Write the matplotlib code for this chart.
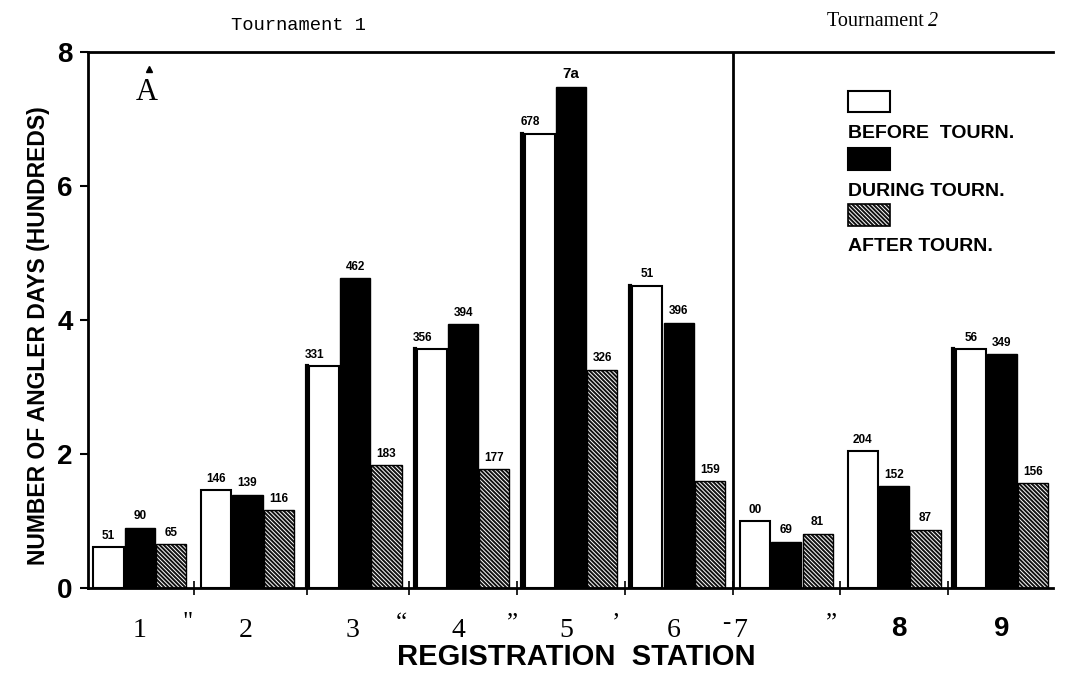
import numpy as np
import matplotlib.pyplot as plt

# angler days (hundreds) per registration station
stations = [1, 2, 3, 4, 5, 6, 7, 8, 9]
before = [0.61, 1.46, 3.31, 3.56, 6.78, 4.51, 1.00, 2.04, 3.56]
during = [0.90, 1.39, 4.62, 3.94, 7.48, 3.96, 0.69, 1.52, 3.49]
after = [0.65, 1.16, 1.83, 1.77, 3.26, 1.59, 0.81, 0.87, 1.56]

# value labels as printed on the chart
before_lbl = ['51', '146', '331', '356', '678', '51', '00', '204', '56']
during_lbl = ['90', '139', '462', '394', '7a', '396', '69', '152', '349']
after_lbl = ['65', '116', '183', '177', '326', '159', '81', '87', '156']

plt.rcParams['hatch.linewidth'] = 0.7
plt.rcParams['hatch.color'] = 'white'
HATCH = '\\' * 8

fig = plt.figure(figsize=(10.67, 6.75), dpi=100)
ax = fig.add_axes([0.0825, 0.129, 0.904, 0.794])

x = np.array(stations, dtype=float)
w = 0.28
off = 0.29

ax.bar(x - off, before, w, color='white', edgecolor='black', linewidth=1.5)
ax.bar(x, during, w, color='black', edgecolor='black', linewidth=1)
ax.bar(x + off, after, w, color='#111111', edgecolor='white', hatch=HATCH, linewidth=0)
ax.bar(x + off, after, w, color='none', edgecolor='black', linewidth=1)

# thick left edges on some of the white bars (scan look)
for i in [2, 3, 4, 5, 8]:
    ax.plot([x[i] - off - w / 2 - 0.02] * 2, [0, before[i]], color='black', lw=3)

# value labels
lblfont = dict(fontweight='bold', family='Liberation Sans', ha='center', va='bottom')
for i in range(len(stations)):
    dx = 0
    if before_lbl[i] in ('331', '356', '678'):
        dx = -0.09
    ax.text(x[i] - off + dx, before[i] + 0.08, before_lbl[i], fontsize=8.5, **lblfont)
    ax.text(x[i], during[i] + 0.08, during_lbl[i], fontsize=11 if during_lbl[i] == '7a' else 8.5, **lblfont)
    ax.text(x[i] + off, after[i] + 0.08, after_lbl[i], fontsize=8.5, **lblfont)

# tournament divider
ax.axvline(6.5, color='black', lw=2)

ax.set_xlim(0.52, 9.47)
ax.set_ylim(0, 8)
ax.spines['right'].set_visible(False)
for s in ['left', 'top', 'bottom']:
    ax.spines[s].set_linewidth(2)

ax.set_yticks([0, 2, 4, 6, 8])
ax.set_yticklabels(['0', '2', '4', '6', '8'], fontsize=20, fontweight='bold', family='Liberation Sans')
ax.tick_params(axis='y', direction='out', length=6, width=1.5, pad=5)
ax.set_xticks([1.5, 2.55, 3.5, 4.5, 5.5, 6.5, 7.5, 8.5])
ax.set_xticklabels([])
ax.tick_params(axis='x', direction='inout', length=10, width=1.2)

# station labels under the axis
for t, xp in [('1', 1.0), ('2', 1.98), ('3', 2.97), ('4', 3.96), ('5', 4.96), ('6', 5.95), ('7', 6.57)]:
    ax.text(xp, -0.64, t, ha='center', va='center', fontsize=20, family='Liberation Serif')
for t, xp in [('8', 8.04), ('9', 9.0)]:
    ax.text(xp, -0.62, t, ha='center', va='center', fontsize=20, fontweight='bold', family='Liberation Sans')
for t, xp in [('"', 1.44), ('“', 3.43), ('”', 4.46), ('’', 5.42), ('-', 6.44), ('”', 7.42)]:
    ax.text(xp, -0.53, t, ha='center', va='center', fontsize=18, family='Liberation Serif')

fig.text(0.54, 0.006, 'REGISTRATION  STATION', ha='center', va='bottom', fontsize=21,
         fontweight='bold', family='Liberation Sans')
fig.text(0.036, 0.503, 'NUMBER OF ANGLER DAYS (HUNDREDS)', rotation=90, ha='center', va='center',
         fontsize=16.5, fontweight='bold', family='Liberation Sans')

fig.text(0.28, 0.962, 'Tournament 1', ha='center', va='center', fontsize=13.5, family='Liberation Mono')
fig.text(0.870, 0.968, 'Tournament ', ha='right', va='center', fontsize=14.5, family='Liberation Serif')
fig.text(0.870, 0.968, '2', ha='left', va='center', fontsize=14.5, style='italic', family='Liberation Serif')

ax.text(0.061, 0.925, 'A', transform=ax.transAxes, ha='center', va='center', fontsize=22, family='Liberation Serif')
ax.plot([0.063], [0.968], marker='^', color='black', markersize=5, transform=ax.transAxes)

# legend drawn by hand
leg = [('white', None, 'BEFORE  TOURN.'), ('black', None, 'DURING TOURN.'), ('#111111', HATCH, 'AFTER TOURN.')]
lx = 0.7875
ly = [0.888, 0.780, 0.676]
for (fc, h, t), yy in zip(leg, ly):
    ax.add_patch(plt.Rectangle((lx, yy), 0.044, 0.040, transform=ax.transAxes, facecolor=fc,
                               edgecolor='white' if h else 'black', hatch=h, lw=0 if h else 1.5))
    if h:
        ax.add_patch(plt.Rectangle((lx, yy), 0.044, 0.040, transform=ax.transAxes, facecolor='none',
                                   edgecolor='black', lw=1.2))
    ax.text(lx, yy - 0.024, t, transform=ax.transAxes, ha='left', va='top', fontsize=14,
            fontweight='bold', family='Liberation Sans')

fig.savefig('out.png', dpi=100)
